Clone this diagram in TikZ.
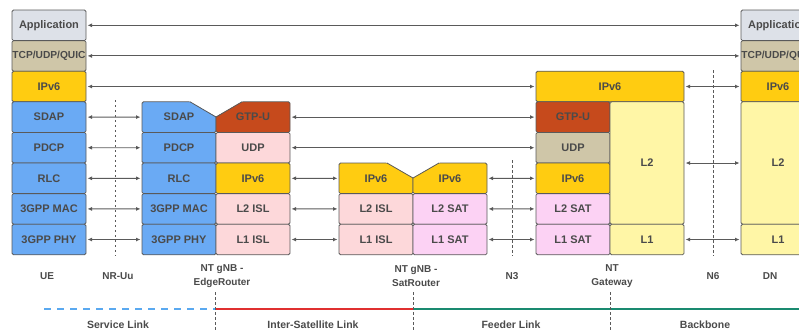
\documentclass[tikz,border=0pt]{standalone}
\usepackage{fontspec}
\setmainfont{Liberation Sans}
\usetikzlibrary{positioning, arrows.meta}

\definecolor{linec}{HTML}{5A5A5A}
\definecolor{txtc}{HTML}{4A4A4A}
\definecolor{appc}{HTML}{DDE1E8}
\definecolor{tcpc}{HTML}{CFC6A8}
\definecolor{ipc}{HTML}{FFCC11}
\definecolor{bluec}{HTML}{6AAAF4}
\definecolor{gtpc}{HTML}{C64A1C}
\definecolor{pinkc}{HTML}{FDD8DA}
\definecolor{satc}{HTML}{FCD2F4}
\definecolor{l2c}{HTML}{FFF6A6}
\definecolor{slc}{HTML}{5AA9F0}
\definecolor{islc}{HTML}{E03030}
\definecolor{flc}{HTML}{1A8A70}

\begin{document}
\begin{tikzpicture}[x=1pt, y=-1pt, node distance=0pt,
    layer/.style={draw=linec, line width=0.8pt, rounded corners=1.5pt, outer sep=0pt,
        inner sep=0pt, minimum width=74pt, minimum height=30.6pt, text=txtc,
        font=\bfseries\fontsize{11}{13}\selectfont},
    narrow/.style={font=\bfseries\fontsize{10.2}{12}\selectfont},
    link/.style={{Latex[length=4.5pt,width=4pt]}-{Latex[length=4.5pt,width=4pt]},
        draw=linec, line width=0.9pt, shorten >=1.5pt, shorten <=1.5pt},
    sep/.style={draw=linec, line width=0.9pt, dash pattern=on 2.5pt off 2.5pt},
    lbl/.style={text=txtc, align=center, font=\bfseries\fontsize{10}{14}\selectfont},
    seg/.style={line width=1.8pt}]
    \clip (0,0) rectangle (799,330);

    % UE
    \node[layer, fill=appc, anchor=north west] (ue-app) at (12,10) {Application};
    \node[layer, narrow, fill=tcpc, below=of ue-app] (ue-tcp) {TCP/UDP/QUIC};
    \node[layer, fill=ipc, below=of ue-tcp] (ue-ip) {IPv6};
    \node[layer, fill=bluec, below=of ue-ip] (ue-sdap) {SDAP};
    \node[layer, fill=bluec, below=of ue-sdap] (ue-pdcp) {PDCP};
    \node[layer, fill=bluec, below=of ue-pdcp] (ue-rlc) {RLC};
    \node[layer, fill=bluec, below=of ue-rlc] (ue-mac) {3GPP MAC};
    \node[layer, fill=bluec, below=of ue-mac] (ue-phy) {3GPP PHY};

    % NT gNB - EdgeRouter
    \node[layer, fill=bluec, anchor=north west] (er-sdap) at (142,101.8) {SDAP};
    \node[layer, fill=bluec, below=of er-sdap] (er-pdcp) {PDCP};
    \node[layer, fill=bluec, below=of er-pdcp] (er-rlc) {RLC};
    \node[layer, fill=bluec, below=of er-rlc] (er-mac) {3GPP MAC};
    \node[layer, fill=bluec, below=of er-mac] (er-phy) {3GPP PHY};
    \node[layer, fill=gtpc, right=of er-sdap] (er-gtp) {GTP-U};
    \node[layer, fill=pinkc, below=of er-gtp] (er-udp) {UDP};
    \node[layer, fill=ipc, below=of er-udp] (er-ip) {IPv6};
    \node[layer, fill=pinkc, below=of er-ip] (er-l2) {L2 ISL};
    \node[layer, fill=pinkc, below=of er-l2] (er-l1) {L1 ISL};
    \fill[white] (189,101) -- (243,101) -- (216,116.5) -- cycle;
    \draw[linec, line width=0.8pt] (190,101.8) -- (216,117) -- (242,101.8);

    % NT gNB - SatRouter
    \node[layer, fill=ipc, anchor=north west] (sr-ip1) at (339,163) {IPv6};
    \node[layer, fill=pinkc, below=of sr-ip1] (sr-l2isl) {L2 ISL};
    \node[layer, fill=pinkc, below=of sr-l2isl] (sr-l1isl) {L1 ISL};
    \node[layer, fill=ipc, right=of sr-ip1] (sr-ip2) {IPv6};
    \node[layer, fill=satc, below=of sr-ip2] (sr-l2sat) {L2 SAT};
    \node[layer, fill=satc, below=of sr-l2sat] (sr-l1sat) {L1 SAT};
    \fill[white] (386,162.2) -- (440,162.2) -- (413,177.7) -- cycle;
    \draw[linec, line width=0.8pt] (387,163) -- (413,178) -- (439,163);

    % NT Gateway
    \node[layer, fill=ipc, minimum width=148pt, anchor=north west] (gw-ip) at (536,71.2) {IPv6};
    \node[layer, fill=gtpc, anchor=north west] (gw-gtp) at (536,101.8) {GTP-U};
    \node[layer, fill=tcpc, below=of gw-gtp] (gw-udp) {UDP};
    \node[layer, fill=ipc, below=of gw-udp] (gw-ip6) {IPv6};
    \node[layer, fill=satc, below=of gw-ip6] (gw-l2sat) {L2 SAT};
    \node[layer, fill=satc, below=of gw-l2sat] (gw-l1sat) {L1 SAT};
    \node[layer, fill=l2c, minimum height=122.4pt, anchor=north west] (gw-l2) at (gw-gtp.north east) {L2};
    \node[layer, fill=l2c, below=of gw-l2] (gw-l1) {L1};

    % DN
    \node[layer, fill=appc, anchor=north west] (dn-app) at (741,10) {Application};
    \node[layer, narrow, fill=tcpc, below=of dn-app] (dn-tcp) {TCP/UDP/QUIC};
    \node[layer, fill=ipc, below=of dn-tcp] (dn-ip) {IPv6};
    \node[layer, fill=l2c, minimum height=122.4pt, below=of dn-ip] (dn-l2) {L2};
    \node[layer, fill=l2c, below=of dn-l2] (dn-l1) {L1};

    % interfaces
    \draw[sep, dash pattern=on 2pt off 3pt] (115,100) -- (115,256);
    \draw[sep] (512,160) -- (512,256);
    \draw[sep] (713,70) -- (713,256);

    \path[link]
    (ue-app) edge (dn-app)
    (ue-tcp) edge (dn-tcp)
    (ue-ip) edge (gw-ip)
    (gw-ip) edge (dn-ip)
    (ue-sdap) edge (er-sdap)
    (ue-pdcp) edge (er-pdcp)
    (ue-rlc) edge (er-rlc)
    (ue-mac) edge (er-mac)
    (ue-phy) edge (er-phy)
    (er-gtp) edge (gw-gtp)
    (er-udp) edge (gw-udp)
    (er-ip) edge (sr-ip1)
    (er-l2) edge (sr-l2isl)
    (er-l1) edge (sr-l1isl)
    (sr-ip2) edge (gw-ip6)
    (sr-l2sat) edge (gw-l2sat)
    (sr-l1sat) edge (gw-l1sat)
    (gw-l2) edge (dn-l2)
    (gw-l1) edge (dn-l1)
    ;

    % labels
    \node[lbl] (lbl-ue) at (47,276) {UE};
    \node[lbl] (lbl-uu) at (118,276) {NR-Uu};
    \node[lbl] (lbl-er) at (222,276) {NT gNB -\\EdgeRouter};
    \node[lbl] (lbl-sr) at (416,276) {NT gNB -\\SatRouter};
    \node[lbl] (lbl-n3) at (512,276) {N3};
    \node[lbl] (lbl-gw) at (612,276) {NT\\Gateway};
    \node[lbl] (lbl-n6) at (713,276) {N6};
    \node[lbl] (lbl-dn) at (770,276) {DN};

    % links
    \coordinate (sl) at (44,309);
    \coordinate (b1) at (215,309);
    \coordinate (b2) at (413,309);
    \coordinate (b3) at (610,309);
    \coordinate (b4) at (799,309);
    \draw[seg, slc, dash pattern=on 7pt off 6pt] (sl) -- (b1);
    \draw[seg, islc] (b1) -- (b2);
    \draw[seg, flc] (b2) -- (b3) -- (b4);
    \draw[sep] (215,292) -- (215,330);
    \draw[sep] (413,292) -- (413,330);
    \draw[sep] (610,292) -- (610,330);
    \node[lbl, font=\bfseries\fontsize{10.5}{12}\selectfont] (lbl-sl) at (118,325) {Service Link};
    \node[lbl, font=\bfseries\fontsize{10.5}{12}\selectfont] (lbl-isl) at (313,325) {Inter-Satellite Link};
    \node[lbl, font=\bfseries\fontsize{10.5}{12}\selectfont] (lbl-fl) at (511,325) {Feeder Link};
    \node[lbl, font=\bfseries\fontsize{10.5}{12}\selectfont] (lbl-bb) at (705,325) {Backbone};
\end{tikzpicture}
\end{document}
